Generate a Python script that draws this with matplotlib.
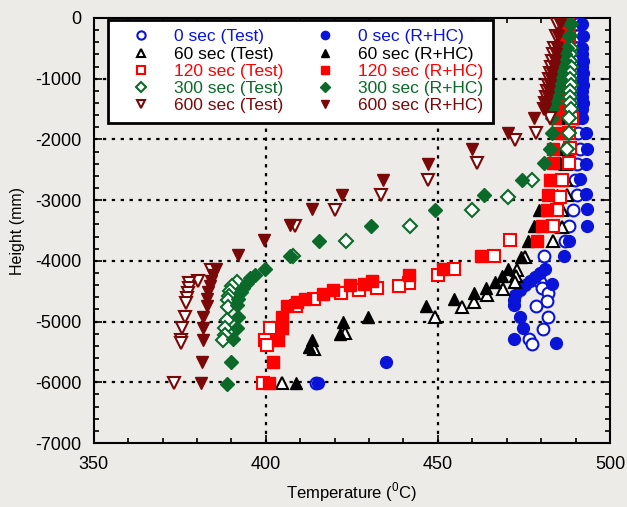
import numpy as np
import matplotlib
matplotlib.use('Agg')
from matplotlib import pyplot as plt
from matplotlib.ticker import MultipleLocator

plt.rcParams['font.family'] = ['Liberation Sans', 'DejaVu Sans']
plt.rcParams['mathtext.fontset'] = 'custom'
plt.rcParams['mathtext.rm'] = 'Liberation Sans'
plt.rcParams['axes.unicode_minus'] = False

# depths of the closely spaced readings near the top
top_depths = [-100, -300, -500, -600, -700, -800, -900, -1000, -1100, -1200, -1300, -1400, -1500]

# 0 sec
t0_test = [490.3, 490.5, 490.2, 490.4, 490.0, 490.3, 490.6, 490.2, 490.4, 490.1, 490.3, 490.5, 490.2,
           490.3, 490.8, 491.3, 490.3, 489.9, 490.3, 489.4, 488.0, 487.0, 480.7, 479.7, 480.2,
           482.1, 481.6, 478.6, 481.9, 480.5, 476.6, 477.3, 414.5]
h0_test = top_depths + [-1650, -1900, -2150, -2400, -2660, -2910, -3160, -3430, -3670, -3920, -4340, -4450,
                        -4530, -4660, -4740, -4930, -5130, -5290, -5370, -6010]
t0_rhc = [492.0, 492.2, 491.8, 492.0, 492.3, 491.9, 492.1, 492.0, 492.2, 491.8, 492.0, 492.1, 491.9,
          491.9, 492.9, 493.2, 492.9, 491.3, 492.9, 493.2, 493.2, 488.0, 486.7, 481.2, 479.7, 478.3,
          476.8, 475.4, 473.9, 472.5, 472.0, 472.2, 483.1, 473.9, 474.7, 472.0, 484.4, 435.0, 415.3]
h0_rhc = top_depths + [-1650, -1900, -2150, -2400, -2650, -2900, -3150, -3430, -3670, -3920, -4140, -4200,
                       -4270, -4330, -4400, -4480, -4560, -4640, -4730, -4380, -4930, -5110, -5290,
                       -5360, -5660, -6010]

# 60 sec
t60_test = [488.0, 488.2, 487.9, 488.1, 488.3, 487.8, 488.0, 488.2, 487.9, 488.1, 488.0, 487.8, 488.2,
            488.0, 487.8, 487.5, 487.3, 487.1, 487.5, 486.0, 486.0, 483.5, 475.4, 473.0, 472.8, 472.3,
            469.0, 464.4, 460.6, 457.1, 449.2, 423.0, 414.0, 404.8]
h60_test = top_depths + [-1650, -1900, -2150, -2400, -2670, -2915, -3160, -3440, -3670, -3930, -4150,
                         -4250, -4340, -4470, -4560, -4670, -4755, -4930, -5180, -5450, -6010]
t60_rhc = [487.5, 487.3, 487.6, 487.2, 487.4, 487.5, 487.1, 487.3, 487.4, 487.2, 487.0, 487.3, 487.1,
           487.0, 487.0, 486.5, 485.6, 485.5, 484.5, 479.5, 478.0, 476.3, 474.2, 470.5, 468.6, 466.7,
           464.0, 460.6, 454.8, 446.5, 429.8, 422.5, 421.5, 413.5, 412.5, 408.7]
h60_rhc = top_depths + [-1650, -1900, -2150, -2390, -2660, -2915, -3170, -3420, -3670, -3930, -4140,
                        -4250, -4340, -4440, -4530, -4630, -4740, -4930, -5000, -5200, -5300, -5420, -6010]

# 120 sec
t120_test = [487.8, 488.0, 487.6, 487.9, 487.7, 488.1, 487.8, 487.6, 487.9, 487.7, 488.0, 487.8, 487.6,
             489.0, 488.0, 488.5, 488.0, 486.0, 485.6, 484.5, 483.6, 471.0, 466.2, 454.8, 449.9, 441.7,
             438.8, 432.4, 427.0, 422.0, 414.0, 408.8, 401.3, 399.8, 400.3, 399.3]
h120_test = top_depths + [-1650, -1900, -2140, -2390, -2670, -2940, -3170, -3430, -3660, -3920, -4140,
                          -4230, -4360, -4410, -4450, -4480, -4530, -4620, -4740, -5110, -5310, -5390, -6010]
t120_rhc = [486.5, 486.2, 486.0, 485.8, 486.1, 485.7, 485.9, 485.5, 485.8, 485.4, 485.6, 485.3, 485.5,
            484.0, 485.0, 483.6, 483.6, 482.7, 482.0, 481.7, 480.2, 478.7, 462.5, 451.6, 441.7, 430.8,
            428.4, 424.5, 419.5, 416.5, 411.5, 409.0, 406.1, 404.6, 404.6, 403.7, 402.2, 400.8]
h120_rhc = top_depths + [-1650, -1900, -2150, -2390, -2670, -2915, -3160, -3430, -3670, -3920, -4140,
                         -4230, -4330, -4380, -4400, -4480, -4550, -4620, -4680, -4740, -4920, -5110,
                         -5300, -5660, -6010]

# 300 sec
t300_test = [488.6, 488.4, 488.7, 488.5, 488.3, 488.6, 488.4, 488.5, 488.7, 488.3, 488.5, 488.4, 488.6,
             488.0, 488.0, 487.5, 477.3, 470.5, 459.9, 442.0, 423.3, 408.0, 391.6, 390.1, 389.6, 389.4,
             389.1, 388.9, 388.7, 388.2, 388.2, 387.7]
h300_test = top_depths + [-1650, -1900, -2150, -2670, -2940, -3170, -3430, -3680, -3920, -4340, -4420,
                          -4500, -4580, -4650, -4760, -4970, -5110, -5220, -5300]
t300_rhc = [488.3, 488.0, 487.5, 487.0, 486.6, 486.2, 485.8, 485.4, 485.0, 484.6, 484.2, 483.7, 483.2,
            483.1, 483.1, 482.7, 480.7, 474.4, 463.3, 449.2, 430.5, 415.5, 406.9, 399.8, 396.9, 395.4,
            394.5, 393.5, 392.8, 392.0, 391.7, 392.0, 391.7, 390.6, 389.8, 388.8]
h300_rhc = top_depths + [-1650, -1900, -2150, -2390, -2670, -2915, -3160, -3420, -3670, -3920, -4130,
                         -4230, -4290, -4360, -4440, -4520, -4620, -4730, -4920, -5110, -5280, -5660, -6020]

# 600 sec
t600_test = [484.5, 484.2, 483.8, 483.5, 483.2, 482.9, 482.6, 482.3, 482.0, 481.7, 481.4, 481.1, 480.8,
             482.7, 478.4, 472.5, 461.3, 447.1, 433.5, 420.0, 408.5, 384.0, 380.2, 377.8, 377.8, 377.5,
             377.2, 376.9, 376.5, 375.8, 375.4, 375.4, 373.3]
h600_test = top_depths + [-1650, -1900, -2010, -2390, -2660, -2915, -3160, -3430, -4150, -4330, -4370,
                          -4450, -4530, -4610, -4700, -4920, -5110, -5300, -5360, -6010]
t600_rhc = [485.6, 485.0, 484.6, 484.3, 484.0, 483.7, 483.3, 483.0, 482.6, 482.3, 481.9, 481.5, 481.2,
            477.8, 470.5, 459.9, 447.1, 434.0, 422.2, 413.5, 406.9, 399.5, 392.0, 385.6, 384.8, 384.2,
            383.7, 383.3, 383.0, 382.8, 381.9, 381.9, 381.9, 381.4, 381.1]
h600_rhc = top_depths + [-1650, -1900, -2150, -2400, -2660, -2915, -3150, -3410, -3660, -3900, -4140,
                         -4230, -4330, -4420, -4520, -4620, -4750, -4920, -5110, -5300, -5660, -6010]

times = ['0', '60', '120', '300', '600']
colors = ['#0A14D8', '#000000', '#FF0000', '#0B6A2A', '#7A0808']
markers = ['o', '^', 's', 'D', 'v']
sizes = [8.5, 8.5, 8, 7, 8.5]
test_data = [(t0_test, h0_test), (t60_test, h60_test), (t120_test, h120_test),
             (t300_test, h300_test), (t600_test, h600_test)]
rhc_data = [(t0_rhc, h0_rhc), (t60_rhc, h60_rhc), (t120_rhc, h120_rhc),
            (t300_rhc, h300_rhc), (t600_rhc, h600_rhc)]

bg = '#ECEBE7'
fig = plt.figure(figsize=(6.27, 5.07), dpi=100, facecolor=bg)
ax = fig.add_axes([0.1494, 0.1262, 0.8234, 0.8383], facecolor=bg)

test_handles = []
rhc_handles = []
for i in range(5):
    t, h = test_data[i]
    ln, = ax.plot(t, h, ls='none', marker=markers[i], ms=sizes[i], mfc='white',
                  mec=colors[i], mew=1.5, zorder=3)
    test_handles.append(ln)
    t, h = rhc_data[i]
    ln2, = ax.plot(t, h, ls='none', marker=markers[i], ms=sizes[i], mfc=colors[i],
                   mec=colors[i], mew=1.0, zorder=3)
    rhc_handles.append(ln2)

ax.set_xlim(350, 500)
ax.set_ylim(-7000, 0)
ax.xaxis.set_major_locator(MultipleLocator(50))
ax.xaxis.set_minor_locator(MultipleLocator(10))
ax.yaxis.set_major_locator(MultipleLocator(1000))
ax.yaxis.set_minor_locator(MultipleLocator(200))
ax.tick_params(which='both', direction='in', top=True, right=True, width=1.2, colors='black')
ax.tick_params(which='major', length=6, labelsize=13, pad=9)
ax.tick_params(which='minor', length=3.5)
for s in ax.spines.values():
    s.set_linewidth(1.5)

# dotted grid at the major ticks
for x in [400, 450]:
    ax.axvline(x, color='black', ls=(0, (1.5, 2.5)), lw=1.6, zorder=1)
for y in [-1000, -2000, -3000, -4000, -5000, -6000]:
    ax.axhline(y, color='black', ls=(0, (1.5, 2.5)), lw=1.6, zorder=1)

ax.set_xlabel(r'Temperature ($^{0}$C)', fontsize=12)
ax.set_ylabel('Height (mm)', fontsize=11.5)
ax.xaxis.labelpad = 6
ax.yaxis.labelpad = 7

labels = [tm + ' sec (Test)' for tm in times] + [tm + ' sec (R+HC)' for tm in times]
leg = ax.legend(test_handles + rhc_handles, labels, ncol=2, loc='upper left',
                bbox_to_anchor=(0.027, 0.996), fontsize=12.5, frameon=True, fancybox=False,
                framealpha=1, edgecolor='black', handlelength=2.8, handletextpad=0.5,
                columnspacing=1.0, labelspacing=0.12, borderpad=0.55, markerscale=0.7,
                borderaxespad=0)
leg.get_frame().set_linewidth(2)
for txt, c in zip(leg.get_texts(), colors + colors):
    txt.set_color(c)
leg.set_zorder(5)

fig.savefig('out.png', dpi=100, facecolor=bg)
